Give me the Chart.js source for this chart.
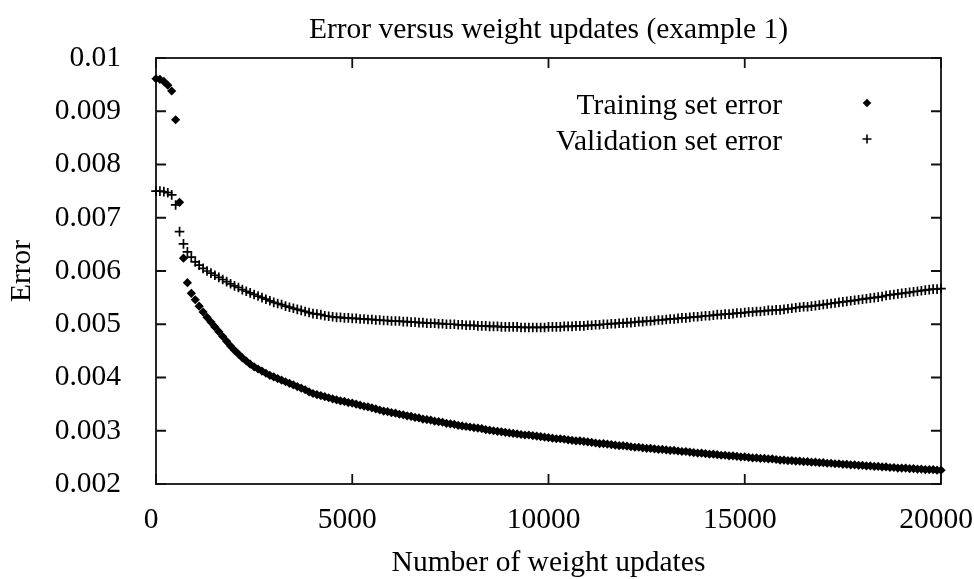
<!DOCTYPE html>
<html><head><meta charset="utf-8">
<script src="https://cdn.jsdelivr.net/npm/chart.js@4.4.1/dist/chart.umd.min.js"></script>
<style>html,body{margin:0;padding:0;background:#fff;}canvas{display:block;background:#fff;}</style>
</head><body>
<canvas id="c" width="974" height="579"></canvas>
<script>
const titleText = 'Error versus weight updates (example 1)';
const xTitle = 'Number of weight updates';
const yTitle = 'Error';
const seriesNames = ['Training set error', 'Validation set error'];

const xTicks = [0, 5000, 10000, 15000, 20000];
const xTickLabels = ['0', '5000', '10000', '15000', '20000'];
const yTicks = [0.002, 0.003, 0.004, 0.005, 0.006, 0.007, 0.008, 0.009, 0.01];
const yTickLabels = ['0.002', '0.003', '0.004', '0.005', '0.006', '0.007', '0.008', '0.009', '0.01'];

const updates = [
  0,100,200,300,400,500,600,700,800,900,
  1000,1100,1200,1300,1400,1500,1600,1700,1800,1900,
  2000,2100,2200,2300,2400,2500,2600,2700,2800,2900,
  3000,3100,3200,3300,3400,3500,3600,3700,3800,3900,
  4000,4100,4200,4300,4400,4500,4600,4700,4800,4900,
  5000,5100,5200,5300,5400,5500,5600,5700,5800,5900,
  6000,6100,6200,6300,6400,6500,6600,6700,6800,6900,
  7000,7100,7200,7300,7400,7500,7600,7700,7800,7900,
  8000,8100,8200,8300,8400,8500,8600,8700,8800,8900,
  9000,9100,9200,9300,9400,9500,9600,9700,9800,9900,
  10000,10100,10200,10300,10400,10500,10600,10700,10800,10900,
  11000,11100,11200,11300,11400,11500,11600,11700,11800,11900,
  12000,12100,12200,12300,12400,12500,12600,12700,12800,12900,
  13000,13100,13200,13300,13400,13500,13600,13700,13800,13900,
  14000,14100,14200,14300,14400,14500,14600,14700,14800,14900,
  15000,15100,15200,15300,15400,15500,15600,15700,15800,15900,
  16000,16100,16200,16300,16400,16500,16600,16700,16800,16900,
  17000,17100,17200,17300,17400,17500,17600,17700,17800,17900,
  18000,18100,18200,18300,18400,18500,18600,18700,18800,18900,
  19000,19100,19200,19300,19400,19500,19600,19700,19800,19900,
  20000
];

const trainingError = [
  0.00961,0.00960,0.00956,0.00949,0.00938,0.00884,0.00729,0.00624,0.00578,0.00558,
  0.00546,0.00534,0.00523,0.00513,0.00504,0.00495,0.00486,0.00477,0.00468,0.00459,
  0.00451,0.00444,0.00437,0.00431,0.00425,0.00420,0.00416,0.00412,0.00408,0.00404,
  0.00401,0.00398,0.00395,0.00392,0.00389,0.00386,0.00383,0.00380,0.00377,0.00373,
  0.00370,0.00368,0.00366,0.00364,0.00362,0.00360,0.00358,0.00356,0.00355,0.00353,
  0.00352,0.00350,0.00348,0.00346,0.00345,0.00343,0.00341,0.00339,0.00337,0.00336,
  0.00334,0.00333,0.00331,0.00330,0.00328,0.00327,0.00325,0.00324,0.00322,0.00321,
  0.00320,0.00318,0.00317,0.00316,0.00314,0.00313,0.00312,0.00310,0.00309,0.00308,
  0.00307,0.00306,0.00305,0.00304,0.00302,0.00301,0.00300,0.00299,0.00298,0.00297,
  0.00296,0.00295,0.00294,0.00293,0.00292,0.00292,0.00291,0.00290,0.00289,0.00288,
  0.00287,0.00286,0.00285,0.00285,0.00284,0.00283,0.00282,0.00281,0.00281,0.00280,
  0.00279,0.00278,0.00277,0.00276,0.00276,0.00275,0.00274,0.00273,0.00272,0.00272,
  0.00271,0.00270,0.00269,0.00269,0.00268,0.00267,0.00267,0.00266,0.00265,0.00265,
  0.00264,0.00263,0.00263,0.00262,0.00261,0.00261,0.00260,0.00259,0.00258,0.00258,
  0.00257,0.00256,0.00256,0.00255,0.00254,0.00254,0.00253,0.00253,0.00252,0.00251,
  0.00251,0.00250,0.00249,0.00249,0.00248,0.00248,0.00247,0.00247,0.00246,0.00245,
  0.00245,0.00244,0.00244,0.00243,0.00243,0.00242,0.00242,0.00241,0.00241,0.00240,
  0.00240,0.00239,0.00239,0.00238,0.00238,0.00237,0.00237,0.00236,0.00236,0.00235,
  0.00235,0.00234,0.00234,0.00233,0.00233,0.00232,0.00232,0.00231,0.00231,0.00230,
  0.00230,0.00230,0.00229,0.00229,0.00228,0.00228,0.00227,0.00227,0.00227,0.00226,
  0.00226
];

const validationError = [
  0.00750,0.00750,0.00749,0.00747,0.00743,0.00724,0.00674,0.00651,0.00636,0.00626,
  0.00617,0.00611,0.00605,0.00600,0.00596,0.00592,0.00588,0.00584,0.00580,0.00576,
  0.00572,0.00569,0.00565,0.00562,0.00559,0.00556,0.00553,0.00550,0.00547,0.00544,
  0.00541,0.00539,0.00537,0.00534,0.00532,0.00530,0.00528,0.00526,0.00524,0.00522,
  0.00520,0.00519,0.00518,0.00516,0.00515,0.00514,0.00513,0.00513,0.00512,0.00512,
  0.00511,0.00511,0.00510,0.00510,0.00509,0.00509,0.00508,0.00508,0.00507,0.00507,
  0.00506,0.00506,0.00506,0.00505,0.00505,0.00504,0.00504,0.00503,0.00503,0.00502,
  0.00502,0.00502,0.00501,0.00501,0.00500,0.00500,0.00500,0.00499,0.00499,0.00498,
  0.00498,0.00498,0.00497,0.00497,0.00497,0.00496,0.00496,0.00496,0.00495,0.00495,
  0.00495,0.00495,0.00495,0.00494,0.00494,0.00494,0.00494,0.00494,0.00494,0.00494,
  0.00495,0.00495,0.00495,0.00495,0.00496,0.00496,0.00496,0.00497,0.00497,0.00497,
  0.00498,0.00498,0.00499,0.00499,0.00500,0.00500,0.00501,0.00501,0.00502,0.00502,
  0.00503,0.00503,0.00504,0.00505,0.00505,0.00506,0.00506,0.00507,0.00508,0.00508,
  0.00509,0.00510,0.00510,0.00511,0.00512,0.00512,0.00513,0.00514,0.00514,0.00515,
  0.00516,0.00516,0.00517,0.00518,0.00518,0.00519,0.00519,0.00520,0.00521,0.00521,
  0.00522,0.00523,0.00523,0.00524,0.00524,0.00525,0.00526,0.00526,0.00527,0.00527,
  0.00528,0.00529,0.00530,0.00531,0.00532,0.00533,0.00533,0.00534,0.00535,0.00536,
  0.00537,0.00538,0.00539,0.00540,0.00541,0.00542,0.00543,0.00544,0.00545,0.00546,
  0.00547,0.00548,0.00549,0.00550,0.00551,0.00552,0.00554,0.00555,0.00556,0.00557,
  0.00558,0.00559,0.00560,0.00561,0.00562,0.00563,0.00564,0.00565,0.00566,0.00566,
  0.00567
];

const FONT = '"Liberation Serif", "Times New Roman", Times, serif';
const FS = 29.5;
const INK = '#000';

function diamond(ctx, x, y, r) {
  ctx.beginPath();
  ctx.moveTo(x, y - r); ctx.lineTo(x + r, y); ctx.lineTo(x, y + r); ctx.lineTo(x - r, y);
  ctx.closePath(); ctx.fill();
}
function plus(ctx, x, y, r) {
  ctx.beginPath();
  ctx.moveTo(x - r, y); ctx.lineTo(x + r, y);
  ctx.moveTo(x, y - r); ctx.lineTo(x, y + r);
  ctx.stroke();
}

const framePlugin = {
  id: 'frame',
  beforeDatasetsDraw(chart) {
    const {ctx, chartArea: a, scales: {x, y}} = chart;
    ctx.save();
    ctx.strokeStyle = '#111';
    ctx.lineWidth = 1.8;
    ctx.strokeRect(a.left, a.top, a.right - a.left, a.bottom - a.top);
    ctx.beginPath();
    x.ticks.forEach(t => {
      const p = x.getPixelForValue(t.value);
      ctx.moveTo(p, a.bottom); ctx.lineTo(p, a.bottom - 10);
      ctx.moveTo(p, a.top); ctx.lineTo(p, a.top + 10);
    });
    y.ticks.forEach(t => {
      const p = y.getPixelForValue(t.value);
      ctx.moveTo(a.left, p); ctx.lineTo(a.left + 10, p);
      ctx.moveTo(a.right, p); ctx.lineTo(a.right - 10, p);
    });
    ctx.stroke();
    ctx.restore();
  },
  afterDraw(chart) {
    const {ctx, chartArea: a} = chart;
    ctx.save();
    ctx.fillStyle = INK;
    ctx.strokeStyle = INK;
    ctx.font = FS + 'px ' + FONT;
    ctx.textBaseline = 'alphabetic';
    ctx.textAlign = 'center';
    ctx.fillText(titleText, (a.left + a.right) / 2, 38);
    ctx.textAlign = 'right';
    ctx.fillText(seriesNames[0], 782, 114);
    ctx.fillText(seriesNames[1], 782, 150);
    diamond(ctx, 867, 103, 4.3);
    ctx.lineWidth = 1.6;
    plus(ctx, 867, 139, 4.5);
    ctx.restore();
  }
};

new Chart(document.getElementById('c'), {
  type: 'scatter',
  data: {
    datasets: [
      {
        label: seriesNames[0],
        data: updates.map((u, i) => ({x: u, y: trainingError[i]})),
        pointStyle: 'rectRot', pointRadius: 4.6, pointBorderWidth: 0,
        backgroundColor: INK, borderColor: INK, showLine: false, clip: false
      },
      {
        label: seriesNames[1],
        data: updates.map((u, i) => ({x: u, y: validationError[i]})),
        pointStyle: 'cross', pointRadius: 4.8, pointBorderWidth: 1.7,
        backgroundColor: INK, borderColor: INK, showLine: false, clip: false
      }
    ]
  },
  options: {
    responsive: false,
    animation: false,
    devicePixelRatio: 1,
    layout: {padding: {top: 58, right: 33, left: 0, bottom: 0}},
    plugins: {legend: {display: false}, title: {display: false}, tooltip: {enabled: false}},
    scales: {
      x: {
        type: 'linear', min: 0, max: 20000,
        afterBuildTicks: s => { s.ticks = xTicks.map(v => ({value: v})); },
        afterFit: s => { s.height = 95; s.paddingLeft = 0; s.paddingRight = 0; },
        ticks: {callback: (v, i) => xTickLabels[i], font: {family: FONT, size: FS}, color: INK, padding: 19, labelOffset: -5, maxRotation: 0, autoSkip: false},
        grid: {display: false, drawTicks: false},
        border: {display: false},
        title: {display: true, text: xTitle, font: {family: FONT, size: FS, lineHeight: 1.1}, color: INK, padding: {top: 0, bottom: 0}}
      },
      y: {
        type: 'linear', min: 0.002, max: 0.01,
        afterBuildTicks: s => { s.ticks = yTicks.map(v => ({value: v})); },
        afterFit: s => { s.width = 156; s.paddingTop = 0; s.paddingBottom = 0; },
        ticks: {callback: (v, i) => yTickLabels[i], font: {family: FONT, size: FS}, color: INK, padding: 35, autoSkip: false},
        grid: {display: false, drawTicks: false},
        border: {display: false},
        title: {display: true, text: yTitle, font: {family: FONT, size: FS, lineHeight: 1.1}, color: INK, padding: {top: 6, bottom: 0}}
      }
    }
  },
  plugins: [framePlugin]
});
</script>
</body></html>
